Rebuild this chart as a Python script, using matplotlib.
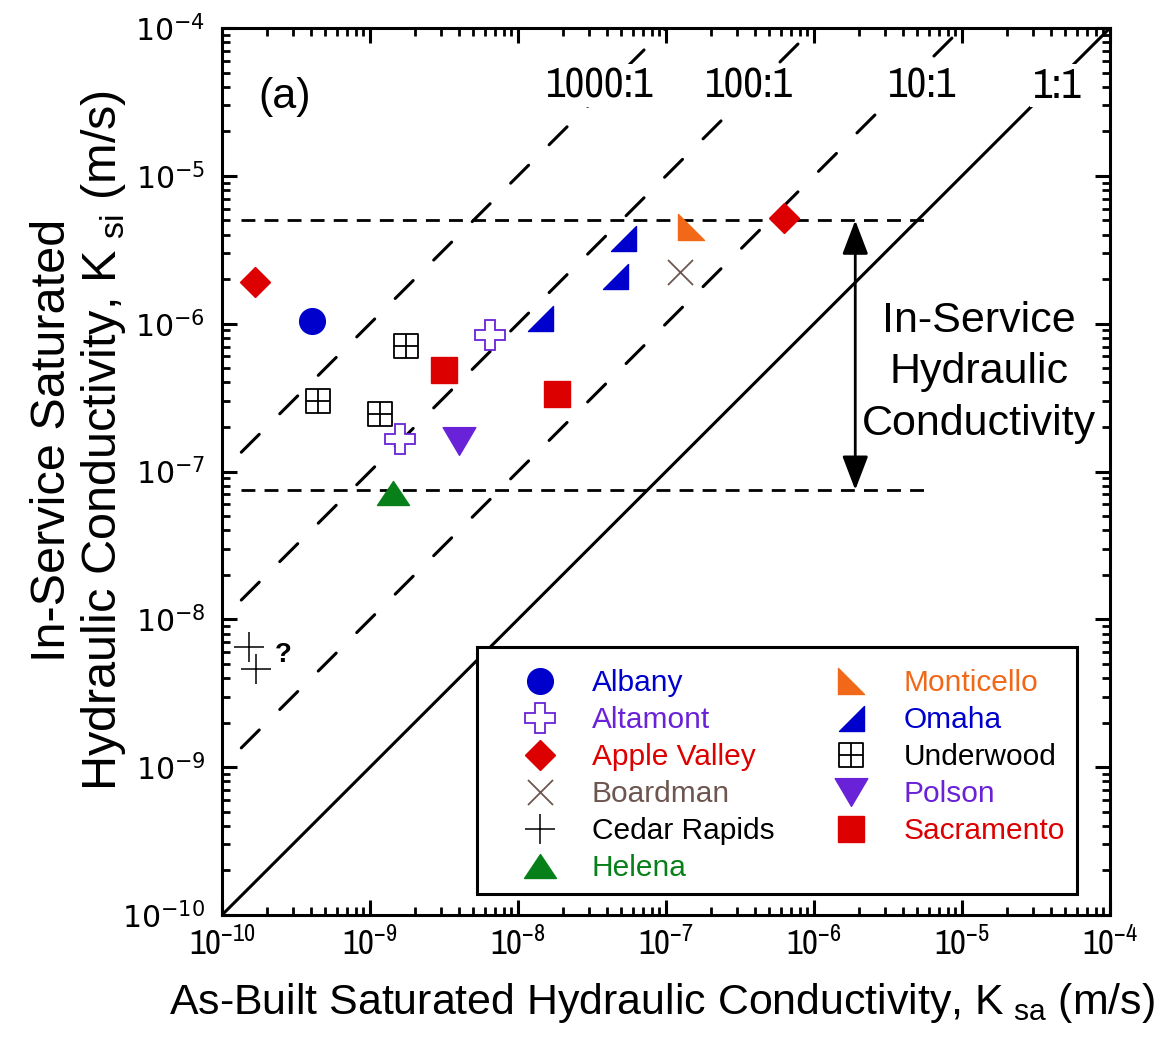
import numpy as np
import matplotlib
matplotlib.use("Agg")
import matplotlib.pyplot as plt
from matplotlib.path import Path
from matplotlib.ticker import FuncFormatter, LogLocator, NullFormatter
from matplotlib.patches import FancyArrowPatch
from matplotlib import font_manager as fm
from matplotlib.font_manager import FontProperties

# ---------------- data ----------------
sites = ["Albany", "Altamont", "Apple Valley", "Boardman", "Cedar Rapids", "Helena",
         "Monticello", "Omaha", "Underwood", "Polson", "Sacramento"]

albany_x = [4.05e-10];               albany_y = [1.04e-6]
altamont_x = [1.6e-9, 6.5e-9];       altamont_y = [1.66e-7, 8.4e-7]
apple_x = [1.67e-10, 6.27e-7];       apple_y = [1.91e-6, 5.18e-6]
boardman_x = [1.25e-7];              boardman_y = [2.25e-6]
cedar_x = [1.52e-10, 1.7e-10];       cedar_y = [6.5e-9, 4.6e-9]
helena_x = [1.43e-9];                helena_y = [7.2e-8]
monticello_x = [1.47e-7];            monticello_y = [4.5e-6]
omaha_x = [1.41e-8, 4.5e-8, 5.1e-8]; omaha_y = [1.09e-6, 2.1e-6, 3.8e-6]
underwood_x = [4.45e-10, 1.17e-9, 1.75e-9]; underwood_y = [2.99e-7, 2.45e-7, 7.1e-7]
polson_x = [4.0e-9];                 polson_y = [1.6e-7]
sacramento_x = [3.16e-9, 1.84e-8];   sacramento_y = [4.85e-7, 3.34e-7]

ratios = [1000, 100, 10, 1]
ratio_labels = ["1000:1", "100:1", "10:1", "1:1"]
k_upper = 5.0e-6
k_lower = 7.5e-8

# ---------------- fonts ----------------
REG = "Liberation Sans"
plt.rcParams["font.family"] = [REG, "DejaVu Sans"]


def _num(v, table, default):
    if isinstance(v, str):
        return table.get(v, default)
    return v


def find_narrow():
    cands = []
    for f in fm.fontManager.ttflist:
        nm = f.name
        wt = _num(f.weight, fm.weight_dict, 400)
        if f.style != "normal" or wt != 400:
            continue
        if "Narrow" in nm and "Mono" not in nm:
            cands.append((0, nm, f.fname))
    cands.sort()
    return cands[0][2] if cands else None


NARROW_FILE = find_narrow()


def nfp(size):
    if NARROW_FILE:
        return FontProperties(fname=NARROW_FILE, size=size)
    return FontProperties(family=REG, size=size * 0.85)


# ---------------- markers ----------------
tri_omaha = Path([(1, 1), (1, -1), (-1, -1), (1, 1)],
                 [Path.MOVETO, Path.LINETO, Path.LINETO, Path.CLOSEPOLY])
tri_monti = Path([(-1, 1), (-1, -1), (1, -1), (-1, 1)],
                 [Path.MOVETO, Path.LINETO, Path.LINETO, Path.CLOSEPOLY])
tri_up = Path([(0, 0.75), (-1, -0.75), (1, -0.75), (0, 0.75)],
              [Path.MOVETO, Path.LINETO, Path.LINETO, Path.CLOSEPOLY])
tri_down = Path([(0, -0.85), (-1, 0.85), (1, 0.85), (0, -0.85)],
                [Path.MOVETO, Path.LINETO, Path.LINETO, Path.CLOSEPOLY])
boxcross = Path([(-1, -1), (1, -1), (1, 1), (-1, 1), (-1, -1),
                 (0, -1), (0, 1), (-1, 0), (1, 0)],
                [Path.MOVETO, Path.LINETO, Path.LINETO, Path.LINETO, Path.CLOSEPOLY,
                 Path.MOVETO, Path.LINETO, Path.MOVETO, Path.LINETO])

BLUE = "#0000CC"
PURPLE = "#6A22D8"
RED = "#DD0000"
BROWN = "#6E5650"
GREEN = "#08801A"
ORANGE = "#F06818"

series = [
    ("Albany", albany_x, albany_y, dict(marker="o", ms=18.5, mfc=BLUE, mec=BLUE), BLUE),
    ("Altamont", altamont_x, altamont_y, dict(marker="P", ms=21.5, mfc="white", mec=PURPLE, mew=1.3), PURPLE),
    ("Apple Valley", apple_x, apple_y, dict(marker="D", ms=15.6, mfc=RED, mec=RED), RED),
    ("Boardman", boardman_x, boardman_y, dict(marker="x", ms=18, mec=BROWN, mew=1.3), BROWN),
    ("Cedar Rapids", cedar_x, cedar_y, dict(marker="+", ms=22, mec="black", mew=1.1), "black"),
    ("Helena", helena_x, helena_y, dict(marker=tri_up, ms=23, mfc=GREEN, mec=GREEN), GREEN),
    ("Monticello", monticello_x, monticello_y, dict(marker=tri_monti, ms=18.5, mfc=ORANGE, mec=ORANGE), ORANGE),
    ("Omaha", omaha_x, omaha_y, dict(marker=tri_omaha, ms=18, mfc=BLUE, mec=BLUE), BLUE),
    ("Underwood", underwood_x, underwood_y, dict(marker=boxcross, ms=17.5, mfc="none", mec="black", mew=1.3), "black"),
    ("Polson", polson_x, polson_y, dict(marker=tri_down, ms=23.5, mfc=PURPLE, mec=PURPLE), PURPLE),
    ("Sacramento", sacramento_x, sacramento_y, dict(marker="s", ms=18.5, mfc=RED, mec=RED), RED),
]

# ---------------- figure ----------------
fig = plt.figure(figsize=(11.74, 10.58), dpi=100)
ax = fig.add_axes([222 / 1174, 1 - 915 / 1058, 888 / 1174, 887 / 1058])
ax.set_xscale("log")
ax.set_yscale("log")
ax.set_xlim(1e-10, 1e-4)
ax.set_ylim(1e-10, 1e-4)

# ratio lines
xs_full = np.array([1e-10, 1e-4])
for r in ratios:
    if r == 1:
        ax.plot(xs_full, xs_full, color="black", lw=2.2, zorder=2)
    else:
        xs = np.array([1.35e-10, 1e-4 / r])
        ax.plot(xs, xs * r, color="black", lw=2.2, dashes=(8.3, 9.5),
                dash_capstyle="round", zorder=2)

label_y = 10 ** -4.39
label_xs = [3.58e-8, 3.64e-7, 5.37e-6, 4.38e-5]
ratio_texts = []
for lx, lab in zip(label_xs, ratio_labels):
    t = ax.text(lx, label_y, lab, ha="center", va="center", fontproperties=nfp(26),
                zorder=3, bbox=dict(facecolor="white", edgecolor="none", pad=1.5))
    ratio_texts.append(t)

# horizontal dashed lines
for yv in [k_upper, k_lower]:
    ax.plot([1.35e-10, 5.6e-6], [yv, yv], color="black", lw=2.0, dashes=(5, 3.3), zorder=2)

# arrow
arr = FancyArrowPatch((1.9e-6, k_lower), (1.9e-6, k_upper),
                      arrowstyle="<|-|>,head_length=21,head_width=8",
                      mutation_scale=1, lw=2.0, color="black", shrinkA=0, shrinkB=0, zorder=4)
ax.add_patch(arr)
ax.text(1.3e-5, 10 ** -6.33, "In-Service\nHydraulic\nConductivity", ha="center", va="center",
        fontsize=31, family=REG, linespacing=1.38, zorder=4)

# data
handles = []
for name, xv, yv, st, col in series:
    h, = ax.plot(xv, yv, linestyle="none", label=name, zorder=5, **st)
    handles.append(h)

ax.text(2.58e-10, 5.7e-9, "?", fontsize=20, fontweight="bold", ha="center", va="center", family=REG)
ax.text(2.67e-10, 3.4e-5, "(a)", fontsize=31, ha="center", va="center", family=REG)

# legend
leg = ax.legend(handles=handles, ncol=2, loc="lower left",
                bbox_to_anchor=(255 / 888, 21 / 887, 600 / 888, 246 / 887), mode="expand",
                frameon=True, fancybox=False, framealpha=1, edgecolor="black",
                borderpad=0.4, handlelength=3.4, handletextpad=0.05, labelspacing=0.3,
                borderaxespad=0, numpoints=1, prop={"family": REG, "size": 21.5},
                title=" ", title_fontsize=1)
leg.get_frame().set_linewidth(2.2)
leg.set_zorder(6)
for txt, s in zip(leg.get_texts(), series):
    txt.set_color(s[4])

# ticks
def fmt(v, p):
    e = int(round(np.log10(v)))
    return r"$\mathregular{10^{%d}}$" % e

ax.xaxis.set_major_locator(LogLocator(base=10, numticks=20))
ax.yaxis.set_major_locator(LogLocator(base=10, numticks=20))
ax.xaxis.set_minor_locator(LogLocator(base=10, subs=np.arange(2, 10), numticks=20))
ax.yaxis.set_minor_locator(LogLocator(base=10, subs=np.arange(2, 10), numticks=20))
ax.xaxis.set_major_formatter(FuncFormatter(fmt))
ax.yaxis.set_major_formatter(FuncFormatter(fmt))
ax.xaxis.set_minor_formatter(NullFormatter())
ax.yaxis.set_minor_formatter(NullFormatter())
ax.tick_params(which="both", direction="in", top=True, right=True)
ax.tick_params(which="major", length=11, width=2.2)
ax.tick_params(which="minor", length=6, width=2.0)
ax.tick_params(axis="x", which="major", pad=8)
ax.tick_params(axis="y", which="major", pad=12)
for lab in ax.get_xticklabels():
    lab.set_fontproperties(nfp(25))
for lab in ax.get_yticklabels():
    lab.set_family("DejaVu Sans"); lab.set_fontsize(21.5)
for s in ax.spines.values():
    s.set_linewidth(2.2)

xl = ax.set_xlabel(r"As-Built Saturated Hydraulic Conductivity, K$_{\mathregular{\ sa}}$ (m/s)",
                   fontsize=30, family=REG)
yl = ax.set_ylabel("In-Service Saturated\n" + r"Hydraulic Conductivity, K$_{\mathregular{\ si}}$ (m/s)",
                   fontsize=30, family=REG, linespacing=1.12)
ax.xaxis.set_label_coords((662 - 222) / 888, (915 - 981) / 887)
ax.yaxis.set_label_coords((128 - 222) / 888, (915 - 440) / 887)

# fit text sizes to the reference extents
fig.canvas.draw()
r = fig.canvas.get_renderer()
w = xl.get_window_extent(r).width
xl.set_fontsize(30 * 985.0 / w)
h = yl.get_window_extent(r).height
yl.set_fontsize(30 * 700.0 / h)
w = ratio_texts[0].get_window_extent(r).width
for t in ratio_texts:
    t.set_fontproperties(nfp(26 * 108.0 / w))

fig.savefig("out.png", dpi=100)
